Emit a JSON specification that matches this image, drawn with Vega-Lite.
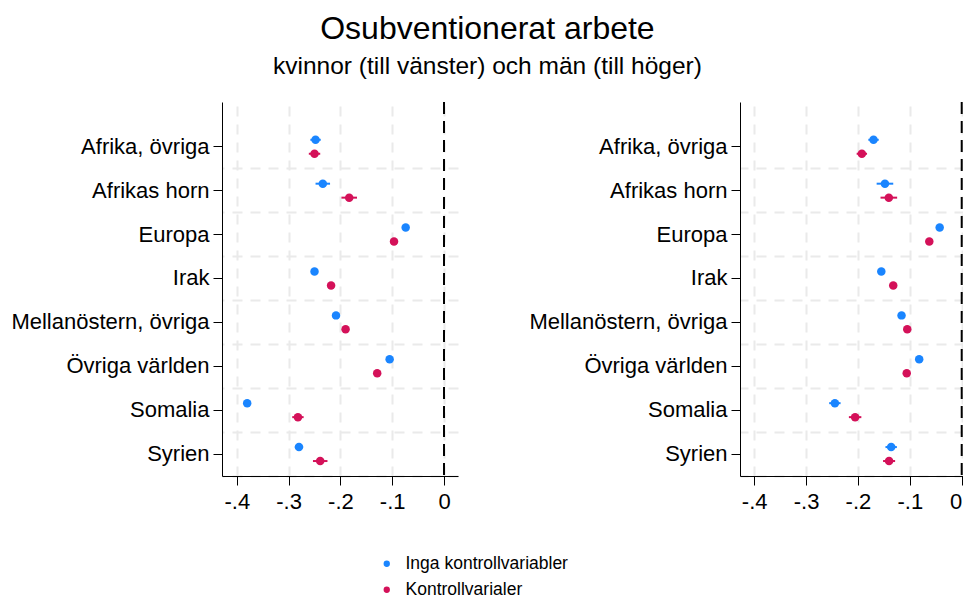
{
  "$schema": "https://vega.github.io/schema/vega-lite/v6.json",
  "background": "white",
  "padding": {"left": 10, "top": 12, "right": 0, "bottom": 0},
  "title": {
    "text": "Osubventionerat arbete",
    "subtitle": "kvinnor (till vänster) och män (till höger)",
    "font": "Liberation Sans",
    "subtitleFont": "Liberation Sans",
    "fontSize": 32,
    "fontWeight": "normal",
    "subtitleFontSize": 24.5,
    "color": "black",
    "subtitleColor": "black",
    "anchor": "middle",
    "subtitlePadding": 9,
    "offset": 22
  },
  "data": {
    "values": [
      {"kon": "kvinnor", "region": "Afrika, övriga", "modell": "Inga kontrollvariabler", "coef": -0.248, "lo": -0.258, "hi": -0.238},
      {"kon": "kvinnor", "region": "Afrika, övriga", "modell": "Kontrollvarialer", "coef": -0.250, "lo": -0.261, "hi": -0.239},
      {"kon": "kvinnor", "region": "Afrikas horn", "modell": "Inga kontrollvariabler", "coef": -0.234, "lo": -0.248, "hi": -0.220},
      {"kon": "kvinnor", "region": "Afrikas horn", "modell": "Kontrollvarialer", "coef": -0.183, "lo": -0.198, "hi": -0.168},
      {"kon": "kvinnor", "region": "Europa", "modell": "Inga kontrollvariabler", "coef": -0.074, "lo": -0.078, "hi": -0.070},
      {"kon": "kvinnor", "region": "Europa", "modell": "Kontrollvarialer", "coef": -0.0965, "lo": -0.1015, "hi": -0.0915},
      {"kon": "kvinnor", "region": "Irak", "modell": "Inga kontrollvariabler", "coef": -0.250, "lo": -0.254, "hi": -0.246},
      {"kon": "kvinnor", "region": "Irak", "modell": "Kontrollvarialer", "coef": -0.218, "lo": -0.223, "hi": -0.213},
      {"kon": "kvinnor", "region": "Mellanöstern, övriga", "modell": "Inga kontrollvariabler", "coef": -0.2085, "lo": -0.2125, "hi": -0.2045},
      {"kon": "kvinnor", "region": "Mellanöstern, övriga", "modell": "Kontrollvarialer", "coef": -0.190, "lo": -0.195, "hi": -0.185},
      {"kon": "kvinnor", "region": "Övriga världen", "modell": "Inga kontrollvariabler", "coef": -0.105, "lo": -0.109, "hi": -0.101},
      {"kon": "kvinnor", "region": "Övriga världen", "modell": "Kontrollvarialer", "coef": -0.129, "lo": -0.134, "hi": -0.124},
      {"kon": "kvinnor", "region": "Somalia", "modell": "Inga kontrollvariabler", "coef": -0.380, "lo": -0.385, "hi": -0.375},
      {"kon": "kvinnor", "region": "Somalia", "modell": "Kontrollvarialer", "coef": -0.282, "lo": -0.293, "hi": -0.271},
      {"kon": "kvinnor", "region": "Syrien", "modell": "Inga kontrollvariabler", "coef": -0.280, "lo": -0.288, "hi": -0.272},
      {"kon": "kvinnor", "region": "Syrien", "modell": "Kontrollvarialer", "coef": -0.239, "lo": -0.253, "hi": -0.225},
      {"kon": "män", "region": "Afrika, övriga", "modell": "Inga kontrollvariabler", "coef": -0.170, "lo": -0.180, "hi": -0.160},
      {"kon": "män", "region": "Afrika, övriga", "modell": "Kontrollvarialer", "coef": -0.1925, "lo": -0.2025, "hi": -0.1825},
      {"kon": "män", "region": "Afrikas horn", "modell": "Inga kontrollvariabler", "coef": -0.148, "lo": -0.164, "hi": -0.132},
      {"kon": "män", "region": "Afrikas horn", "modell": "Kontrollvarialer", "coef": -0.1405, "lo": -0.1565, "hi": -0.1245},
      {"kon": "män", "region": "Europa", "modell": "Inga kontrollvariabler", "coef": -0.0425, "lo": -0.0465, "hi": -0.0385},
      {"kon": "män", "region": "Europa", "modell": "Kontrollvarialer", "coef": -0.0625, "lo": -0.0675, "hi": -0.0575},
      {"kon": "män", "region": "Irak", "modell": "Inga kontrollvariabler", "coef": -0.155, "lo": -0.159, "hi": -0.151},
      {"kon": "män", "region": "Irak", "modell": "Kontrollvarialer", "coef": -0.132, "lo": -0.137, "hi": -0.127},
      {"kon": "män", "region": "Mellanöstern, övriga", "modell": "Inga kontrollvariabler", "coef": -0.116, "lo": -0.120, "hi": -0.112},
      {"kon": "män", "region": "Mellanöstern, övriga", "modell": "Kontrollvarialer", "coef": -0.105, "lo": -0.110, "hi": -0.100},
      {"kon": "män", "region": "Övriga världen", "modell": "Inga kontrollvariabler", "coef": -0.082, "lo": -0.086, "hi": -0.078},
      {"kon": "män", "region": "Övriga världen", "modell": "Kontrollvarialer", "coef": -0.106, "lo": -0.111, "hi": -0.101},
      {"kon": "män", "region": "Somalia", "modell": "Inga kontrollvariabler", "coef": -0.2445, "lo": -0.2555, "hi": -0.2335},
      {"kon": "män", "region": "Somalia", "modell": "Kontrollvarialer", "coef": -0.2055, "lo": -0.2175, "hi": -0.1935},
      {"kon": "män", "region": "Syrien", "modell": "Inga kontrollvariabler", "coef": -0.136, "lo": -0.147, "hi": -0.125},
      {"kon": "män", "region": "Syrien", "modell": "Kontrollvarialer", "coef": -0.140, "lo": -0.1516, "hi": -0.1284}
    ]
  },
  "spacing": 70,
  "hconcat": [
    {
      "width": 236,
      "height": 374,
      "transform": [{"filter": "datum.kon == 'kvinnor'"}],
      "layer": [
        {
          "mark": {"type": "rule", "strokeWidth": 2},
          "encoding": {
            "x": {"field": "lo", "type": "quantitative", "scale": {"domain": [-0.4286, 0.027], "nice": false, "zero": false},
              "axis": {"values": [-0.4, -0.3, -0.2, -0.1, 0], "title": null, "grid": true,
                "labelExpr": "datum.value == 0 ? '0' : (datum.value < 0 ? '-' : '') + '.' + format(abs(datum.value) * 10, '.0f')"}},
            "x2": {"field": "hi"},
            "y": {"field": "region", "type": "nominal",
              "scale": {"domain": ["Afrika, övriga", "Afrikas horn", "Europa", "Irak", "Mellanöstern, övriga", "Övriga världen", "Somalia", "Syrien"], "paddingInner": 0, "paddingOuter": 0.26, "align": 1},
              "axis": {"orient": "right", "title": null, "labels": false, "ticks": false, "domain": false, "grid": true, "bandPosition": 1}},
            "yOffset": {"field": "modell", "type": "nominal", "scale": {"domain": ["Inga kontrollvariabler", "Kontrollvarialer"], "paddingInner": 0, "paddingOuter": 0.571}},
            "color": {"field": "modell", "type": "nominal"}
          }
        },
        {
          "data": {"values": [{"ref": 0}]},
          "mark": {"type": "rule", "color": "black", "strokeWidth": 2, "strokeDash": [12, 7]},
          "encoding": {"x": {"field": "ref", "type": "quantitative"}}
        },
        {
          "mark": {"type": "circle", "size": 72, "opacity": 1},
          "encoding": {
            "x": {"field": "coef", "type": "quantitative"},
            "y": {"field": "region", "type": "nominal", "axis": {"orient": "left", "title": null, "grid": false}},
            "yOffset": {"field": "modell", "type": "nominal"},
            "color": {"field": "modell", "type": "nominal"}
          }
        }
      ],
      "resolve": {"axis": {"y": "independent"}}
    },
    {
      "width": 224,
      "height": 374,
      "transform": [{"filter": "datum.kon == 'män'"}],
      "layer": [
        {
          "mark": {"type": "rule", "strokeWidth": 2},
          "encoding": {
            "x": {"field": "lo", "type": "quantitative", "scale": {"domain": [-0.4274, 0.0044], "nice": false, "zero": false},
              "axis": {"values": [-0.4, -0.3, -0.2, -0.1, 0], "title": null, "grid": true, "labelFlush": 5,
                "labelExpr": "datum.value == 0 ? '0' : (datum.value < 0 ? '-' : '') + '.' + format(abs(datum.value) * 10, '.0f')"}},
            "x2": {"field": "hi"},
            "y": {"field": "region", "type": "nominal",
              "scale": {"domain": ["Afrika, övriga", "Afrikas horn", "Europa", "Irak", "Mellanöstern, övriga", "Övriga världen", "Somalia", "Syrien"], "paddingInner": 0, "paddingOuter": 0.26, "align": 1},
              "axis": {"orient": "right", "title": null, "labels": false, "ticks": false, "domain": false, "grid": true, "bandPosition": 1}},
            "yOffset": {"field": "modell", "type": "nominal", "scale": {"domain": ["Inga kontrollvariabler", "Kontrollvarialer"], "paddingInner": 0, "paddingOuter": 0.571}},
            "color": {"field": "modell", "type": "nominal"}
          }
        },
        {
          "data": {"values": [{"ref": 0}]},
          "mark": {"type": "rule", "color": "black", "strokeWidth": 2, "strokeDash": [12, 7]},
          "encoding": {"x": {"field": "ref", "type": "quantitative"}}
        },
        {
          "mark": {"type": "circle", "size": 72, "opacity": 1},
          "encoding": {
            "x": {"field": "coef", "type": "quantitative"},
            "y": {"field": "region", "type": "nominal", "axis": {"orient": "left", "title": null, "grid": false}},
            "yOffset": {"field": "modell", "type": "nominal"},
            "color": {"field": "modell", "type": "nominal"}
          }
        }
      ],
      "resolve": {"axis": {"y": "independent"}}
    }
  ],
  "config": {
    "view": {"stroke": null},
    "font": "Liberation Sans",
    "range": {"category": ["#1A85FF", "#D41159"]},
    "axis": {
      "labelFont": "Liberation Sans",
      "labelFontSize": 22,
      "labelLimit": 400,
      "labelColor": "black",
      "domainColor": "black",
      "domainWidth": 1,
      "tickColor": "black",
      "tickWidth": 1,
      "tickSize": 9,
      "labelPadding": 4,
      "gridColor": "#EAEAEA",
      "gridWidth": 2,
      "gridDash": [10, 8]
    },
    "axisX": {"labelPadding": 6},
    "legend": {
      "orient": "none",
      "legendX": 156,
      "legendY": 453,
      "title": null,
      "direction": "vertical",
      "labelFont": "Liberation Sans",
      "labelFontSize": 17.5,
      "labelLimit": 400,
      "labelColor": "black",
      "symbolType": "circle",
      "symbolSize": 40,
      "symbolStrokeWidth": 0,
      "labelOffset": 10,
      "rowPadding": 7,
      "padding": 0
    }
  }
}
